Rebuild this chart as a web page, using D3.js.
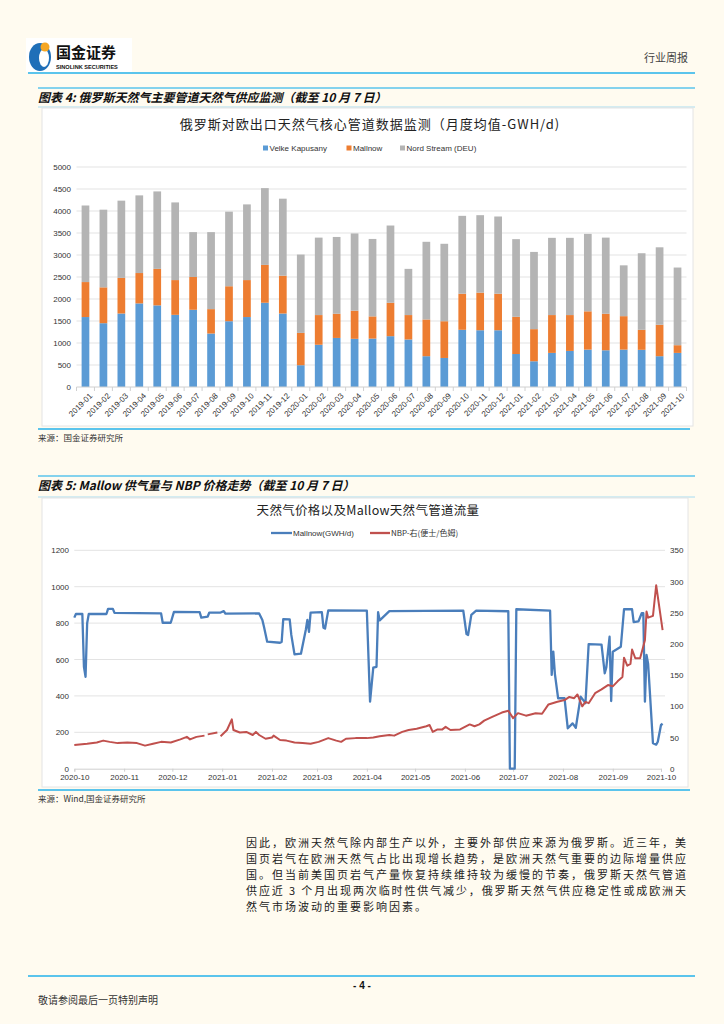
<!DOCTYPE html>
<html>
<head>
<meta charset="utf-8">
<script src="https://cdn.jsdelivr.net/npm/d3@7"></script>
<style>
body { margin: 0; background: #fffbf0; }
svg { display: block; }
text { font-family: "Liberation Sans", Arial, sans-serif; }
.cjk { font-family: "Noto Sans CJK SC", sans-serif; }
</style>
</head>
<body>
<script>
// ---- chart 1 data (monthly average, GWH/d) ----
const months = ["2019-01","2019-02","2019-03","2019-04","2019-05","2019-06","2019-07","2019-08","2019-09","2019-10","2019-11","2019-12",
  "2020-01","2020-02","2020-03","2020-04","2020-05","2020-06","2020-07","2020-08","2020-09","2020-10","2020-11","2020-12",
  "2021-01","2021-02","2021-03","2021-04","2021-05","2021-06","2021-07","2021-08","2021-09","2021-10"];
const velke = [1590,1450,1670,1900,1855,1640,1755,1215,1495,1590,1915,1670,495,960,1115,1095,1100,1155,1080,700,660,1300,1290,1290,750,585,775,820,850,835,850,845,700,775];
const mallnow = [795,815,810,690,830,790,745,555,795,840,860,860,735,675,550,640,505,760,555,835,835,820,855,830,845,730,860,815,870,830,760,455,715,175];
const nordStream = [1740,1765,1755,1765,1760,1765,1020,1750,1695,1720,1745,1750,1780,1760,1745,1755,1760,1755,1050,1765,1760,1770,1760,1755,1765,1755,1755,1755,1760,1730,1155,1740,1760,1765];
const seriesNames = ["Velke Kapusany", "Mallnow", "Nord Stream (DEU)"];
const seriesColors = ["#5b9bd5", "#ed7d31", "#b4b4b4"];
const barTicks = [0,500,1000,1500,2000,2500,3000,3500,4000,4500,5000];

// ---- chart 2 data ----
const mallnowFlow = [
  ["2020-10-01",830],["2020-10-02",850],["2020-10-06",850],["2020-10-07",560],["2020-10-08",505],["2020-10-09",800],["2020-10-10",850],
  ["2020-10-21",850],["2020-10-22",878],["2020-10-25",878],["2020-10-26",856],
  ["2020-11-24",853],["2020-11-25",802],["2020-11-30",802],["2020-12-02",862],
  ["2020-12-18",860],["2020-12-19",830],["2020-12-23",836],["2020-12-24",858],
  ["2020-12-31",858],["2021-01-02",866],["2021-01-03",852],["2021-01-24",853],
  ["2021-01-26",817],["2021-01-27",780],["2021-01-29",698],["2021-02-06",692],["2021-02-07",696],["2021-02-08",822],["2021-02-12",820],
  ["2021-02-13",735],["2021-02-15",628],["2021-02-19",632],["2021-02-22",762],["2021-02-23",817],["2021-02-24",752],["2021-02-25",858],
  ["2021-03-04",860],["2021-03-05",775],["2021-03-06",770],["2021-03-08",870],
  ["2021-04-01",868],["2021-04-02",615],["2021-04-03",368],["2021-04-05",555],["2021-04-07",560],["2021-04-08",860],["2021-04-09",815],["2021-04-15",866],
  ["2021-05-31",868],["2021-06-02",740],["2021-06-03",735],["2021-06-05",845],["2021-06-08",868],
  ["2021-06-28",865],["2021-06-29",0],["2021-07-02",0],["2021-07-03",876],
  ["2021-07-24",868],["2021-07-25",515],["2021-07-26",643],["2021-07-27",520],["2021-07-29",387],["2021-08-02",387],
  ["2021-08-04",222],["2021-08-07",249],["2021-08-09",225],["2021-08-12",396],["2021-08-15",360],["2021-08-17",685],["2021-08-25",682],
  ["2021-08-27",524],["2021-08-28",558],["2021-08-30",725],["2021-08-31",372],["2021-09-01",643],["2021-09-06",670],["2021-09-08",876],
  ["2021-09-13",876],["2021-09-14",805],["2021-09-17",810],["2021-09-19",854],["2021-09-20",854],["2021-09-21",368],["2021-09-22",625],
  ["2021-09-23",575],["2021-09-24",432],["2021-09-26",140],["2021-09-28",132],["2021-09-29",148],["2021-10-01",240],["2021-10-02",247]
];
const nbpPrice = [
  ["2020-10-01",38],["2020-10-09",40],["2020-10-15",42],["2020-10-19",45],["2020-10-23",43],["2020-10-28",41],["2020-11-03",42],
  ["2020-11-09",41],["2020-11-14",37],["2020-11-19",40],["2020-11-24",43],["2020-11-30",42],["2020-12-06",47],["2020-12-10",51],
  ["2020-12-12",47],["2020-12-16",51],["2020-12-21",53],["2020-12-22",null],["2020-12-23",55],["2020-12-29",58],["2020-12-30",null],
  ["2020-12-31",52],["2021-01-04",62],["2021-01-07",79],["2021-01-08",62],["2021-01-12",58],["2021-01-16",59],["2021-01-20",54],
  ["2021-01-22",59],["2021-01-24",54],["2021-01-28",48],["2021-02-01",50],["2021-02-02",53],["2021-02-06",46],["2021-02-10",45],
  ["2021-02-15",42],["2021-02-20",41],["2021-02-25",40],["2021-03-02",43],["2021-03-08",49],["2021-03-13",45],["2021-03-16",43],
  ["2021-03-19",48],["2021-03-25",49],["2021-04-01",49],["2021-04-05",50],["2021-04-09",52],["2021-04-15",54],["2021-04-18",53],
  ["2021-04-23",59],["2021-04-27",62],["2021-05-02",64],["2021-05-08",68],["2021-05-10",70],["2021-05-12",59],["2021-05-15",63],
  ["2021-05-18",63],["2021-05-20",67],["2021-05-23",62],["2021-05-29",63],["2021-06-04",71],["2021-06-07",68],["2021-06-10",71],
  ["2021-06-13",77],["2021-06-18",83],["2021-06-24",90],["2021-06-28",93],["2021-07-01",81],["2021-07-04",89],["2021-07-09",85],
  ["2021-07-15",89],["2021-07-19",88],["2021-07-23",103],["2021-07-28",107],["2021-08-02",110],["2021-08-05",115],["2021-08-08",113],
  ["2021-08-10",119],["2021-08-13",100],["2021-08-15",107],["2021-08-17",105],["2021-08-21",121],["2021-08-25",127],["2021-08-29",134],
  ["2021-09-01",132],["2021-09-04",140],["2021-09-07",147],["2021-09-08",178],["2021-09-10",165],["2021-09-12",168],["2021-09-13",191],
  ["2021-09-15",177],["2021-09-18",177],["2021-09-21",206],["2021-09-22",252],["2021-09-23",242],["2021-09-26",245],["2021-09-28",294],
  ["2021-10-02",222]
];
const leftTicks = [0,200,400,600,800,1000,1200];
const rightTicks = [0,50,100,150,200,250,300,350];
const monthTicks = ["2020-10","2020-11","2020-12","2021-01","2021-02","2021-03","2021-04","2021-05","2021-06","2021-07","2021-08","2021-09","2021-10"];

const bodyLines = [
  "因此，欧洲天然气除内部生产以外，主要外部供应来源为俄罗斯。近三年，美",
  "国页岩气在欧洲天然气占比出现增长趋势，是欧洲天然气重要的边际增量供应",
  "国。但当前美国页岩气产量恢复持续维持较为缓慢的节奏，俄罗斯天然气管道",
  "供应近 3 个月出现两次临时性供气减少，俄罗斯天然气供应稳定性或成欧洲天",
  "然气市场波动的重要影响因素。"
];

const blue = "#5bc4ec";
const svg = d3.select("body").append("svg").attr("width", 724).attr("height", 1024);

// ---- page header ----
svg.append("rect").attr("x", 26).attr("y", 38).attr("width", 106).attr("height", 34).attr("fill", "#fff");
svg.append("ellipse").attr("cx", 40).attr("cy", 57).attr("rx", 11).attr("ry", 14).attr("fill", "#1f6fb8");
svg.append("ellipse").attr("cx", 44).attr("cy", 58).attr("rx", 5).attr("ry", 9).attr("fill", "#fff");
svg.append("circle").attr("cx", 45).attr("cy", 47).attr("r", 4.5).attr("fill", "#f5a623");
svg.append("text").attr("class", "cjk").attr("x", 56).attr("y", 58).attr("font-size", 15).attr("font-weight", 700)
  .attr("fill", "#111").text("国金证券");
svg.append("text").attr("x", 56).attr("y", 69).attr("font-size", 5.6).attr("font-weight", 700)
  .attr("fill", "#111").text("SINOLINK SECURITIES");
svg.append("text").attr("class", "cjk").attr("x", 688).attr("y", 62).attr("text-anchor", "end")
  .attr("font-size", 11).attr("fill", "#444").text("行业周报");
svg.append("line").attr("x1", 28).attr("x2", 695).attr("y1", 73).attr("y2", 73).attr("stroke", blue).attr("stroke-width", 2.2);

function section(top, title, boxTop, boxBottom, boxRight, source) {
  svg.append("line").attr("x1", 38).attr("x2", 695).attr("y1", top).attr("y2", top).attr("stroke", blue).attr("stroke-width", 1.6);
  svg.append("text").attr("class", "cjk").attr("x", 38).attr("y", top + 14).attr("font-size", 12)
    .attr("font-weight", 700).attr("font-style", "italic").attr("fill", "#111").text(title);
  svg.append("line").attr("x1", 38).attr("x2", 695).attr("y1", boxTop).attr("y2", boxTop).attr("stroke", "#a8dcf2").attr("stroke-width", 1);
  svg.append("rect").attr("x", 42).attr("y", boxTop + 1).attr("width", boxRight - 42).attr("height", boxBottom - boxTop - 1)
    .attr("fill", "#fff").attr("stroke", "#e4e4e4").attr("stroke-width", 1);
  svg.append("line").attr("x1", 38).attr("x2", 690).attr("y1", boxBottom + 3).attr("y2", boxBottom + 3).attr("stroke", blue).attr("stroke-width", 2);
  svg.append("text").attr("class", "cjk").attr("x", 38).attr("y", boxBottom + 15).attr("font-size", 8.5).attr("fill", "#333").text(source);
}
section(88, "图表 4: 俄罗斯天然气主要管道天然气供应监测（截至 10 月 7 日）", 107, 426, 693, "来源：国金证券研究所");
section(476, "图表 5: Mallow 供气量与 NBP 价格走势（截至 10 月 7 日）", 497, 787, 688, "来源：Wind,国金证券研究所");

// ---- chart 1: stacked bars ----
const barData = months.map((m, i) => ({ month: m, v: velke[i], m: mallnow[i], n: nordStream[i] }));
const stack = d3.stack().keys(["v", "m", "n"])(barData);

const x1 = d3.scaleBand().domain(months).range([76.5, 686.5]).paddingInner(0.57).paddingOuter(0.285);
const y1 = d3.scaleLinear().domain([0, 5000]).range([387, 167]);

const c1 = svg.append("g");
c1.append("text").attr("class", "cjk").attr("x", 370).attr("y", 129).attr("text-anchor", "middle")
  .attr("font-size", 13).attr("letter-spacing", 1).attr("fill", "#222").text("俄罗斯对欧出口天然气核心管道数据监测（月度均值-GWH/d)");

c1.append("g").selectAll("line").data(barTicks.slice(1)).join("line")
  .attr("x1", 76.5).attr("x2", 686.5).attr("y1", d => y1(d)).attr("y2", d => y1(d))
  .attr("stroke", "#e3e3e3").attr("stroke-width", 1);

c1.append("g").selectAll("g").data(stack).join("g").attr("fill", (d, i) => seriesColors[i])
  .selectAll("rect").data(d => d).join("rect")
  .attr("x", d => x1(d.data.month)).attr("width", x1.bandwidth())
  .attr("y", d => y1(d[1])).attr("height", d => y1(d[0]) - y1(d[1]));

const yAxis1 = c1.append("g").attr("transform", "translate(71,0)")
  .call(d3.axisLeft(y1).tickValues(barTicks).tickFormat(d3.format("d")).tickSize(0).tickPadding(0));
yAxis1.select(".domain").remove();
yAxis1.selectAll("text").attr("font-size", 8).attr("fill", "#333").attr("font-family", "Liberation Sans");

c1.append("line").attr("x1", 76.5).attr("x2", 686.5).attr("y1", 387).attr("y2", 387).attr("stroke", "#d0d0d0");
c1.append("g").selectAll("line").data(d3.range(months.length + 1)).join("line")
  .attr("x1", i => 76.5 + i * x1.step()).attr("x2", i => 76.5 + i * x1.step())
  .attr("y1", 387).attr("y2", 391).attr("stroke", "#d0d0d0");
c1.append("g").selectAll("text").data(months).join("text")
  .attr("transform", d => `translate(${x1(d) + x1.bandwidth() / 2 + 4},393) rotate(-45)`)
  .attr("text-anchor", "end").attr("dy", "0.6em").attr("font-size", 8).attr("fill", "#333").text(d => d);

const lg1 = c1.append("g").selectAll("g").data(seriesNames).join("g")
  .attr("transform", (d, i) => `translate(${[263, 346.5, 400][i]},148)`);
lg1.append("rect").attr("x", 0).attr("y", -2.5).attr("width", 5).attr("height", 5).attr("fill", (d, i) => seriesColors[i]);
lg1.append("text").attr("x", 6.5).attr("y", 3).attr("font-size", 8).attr("fill", "#333").text(d => d);

// ---- chart 2: dual axis lines ----
const parse = d3.timeParse("%Y-%m-%d");
const x2 = d3.scaleTime().domain([parse("2020-10-01"), parse("2021-10-01")]).range([74.3, 661]);
const yL = d3.scaleLinear().domain([0, 1200]).range([768.7, 550.3]);
const yR = d3.scaleLinear().domain([0, 350]).range([768.7, 550.3]);

const c2 = svg.append("g");
c2.append("text").attr("class", "cjk").attr("x", 368).attr("y", 515).attr("text-anchor", "middle")
  .attr("font-size", 12.5).attr("letter-spacing", 0.3).attr("fill", "#222").text("天然气价格以及Mallow天然气管道流量");

c2.append("g").selectAll("line").data(leftTicks.slice(1)).join("line")
  .attr("x1", 74.3).attr("x2", 665).attr("y1", d => yL(d)).attr("y2", d => yL(d))
  .attr("stroke", "#e3e3e3");

const yAxisL = c2.append("g").attr("transform", "translate(69,0)")
  .call(d3.axisLeft(yL).tickValues(leftTicks).tickFormat(d3.format("d")).tickSize(0).tickPadding(0));
yAxisL.select(".domain").remove();
yAxisL.selectAll("text").attr("font-size", 8).attr("fill", "#333").attr("font-family", "Liberation Sans");

const yAxisR = c2.append("g").attr("transform", "translate(670,0)")
  .call(d3.axisRight(yR).tickValues(rightTicks).tickFormat(d3.format("d")).tickSize(0).tickPadding(0));
yAxisR.select(".domain").remove();
yAxisR.selectAll("text").attr("font-size", 8).attr("fill", "#333").attr("font-family", "Liberation Sans");

const xAxis2 = c2.append("g").attr("transform", "translate(0,768.7)")
  .call(d3.axisBottom(x2).tickValues(monthTicks.map(m => parse(m + "-01"))).tickFormat(d3.timeFormat("%Y-%m")).tickSize(3).tickPadding(3));
xAxis2.select(".domain").attr("stroke", "#cfcfcf");
xAxis2.selectAll(".tick line").attr("stroke", "#cfcfcf");
xAxis2.selectAll("text").attr("font-size", 8).attr("fill", "#333").attr("font-family", "Liberation Sans");

const flowLine = d3.line().x(d => x2(parse(d[0]))).y(d => yL(d[1]));
c2.append("path").datum(mallnowFlow).attr("d", flowLine)
  .attr("fill", "none").attr("stroke", "#4a7ebb").attr("stroke-width", 2.3).attr("stroke-linejoin", "round");

const priceLine = d3.line().defined(d => d[1] !== null).x(d => x2(parse(d[0]))).y(d => yR(d[1]));
c2.append("path").datum(nbpPrice).attr("d", priceLine)
  .attr("fill", "none").attr("stroke", "#c0504d").attr("stroke-width", 2).attr("stroke-linejoin", "round");

const lg2 = c2.append("g");
lg2.append("line").attr("x1", 271).attr("x2", 292).attr("y1", 533).attr("y2", 533).attr("stroke", "#4a7ebb").attr("stroke-width", 2.3);
lg2.append("text").attr("x", 293).attr("y", 536).attr("font-size", 8).attr("fill", "#333").text("Mallnow(GWH/d)");
lg2.append("line").attr("x1", 370).attr("x2", 390).attr("y1", 533).attr("y2", 533).attr("stroke", "#c0504d").attr("stroke-width", 2.3);
lg2.append("text").attr("class", "cjk").attr("x", 391).attr("y", 536).attr("font-size", 8).attr("fill", "#333").text("NBP-右(便士/色姆)");

// ---- body text ----
svg.append("g").selectAll("text").data(bodyLines).join("text")
  .attr("class", "cjk").attr("x", 246).attr("y", (d, i) => 847 + i * 16)
  .attr("font-size", 11).attr("fill", "#222")
  .each(function (d, i) {
    if (i < bodyLines.length - 1) d3.select(this).attr("textLength", 440).attr("lengthAdjust", "spacing");
    else d3.select(this).attr("letter-spacing", 2);
  })
  .text(d => d);

// ---- footer ----
svg.append("line").attr("x1", 28).attr("x2", 695).attr("y1", 976).attr("y2", 976).attr("stroke", blue).attr("stroke-width", 2.2);
svg.append("text").attr("x", 362).attr("y", 989).attr("text-anchor", "middle").attr("font-size", 10).attr("font-weight", 700)
  .attr("fill", "#111").text("- 4 -");
svg.append("text").attr("class", "cjk").attr("x", 38).attr("y", 1004).attr("font-size", 10).attr("fill", "#333")
  .text("敬请参阅最后一页特别声明");
</script>
</body>
</html>
